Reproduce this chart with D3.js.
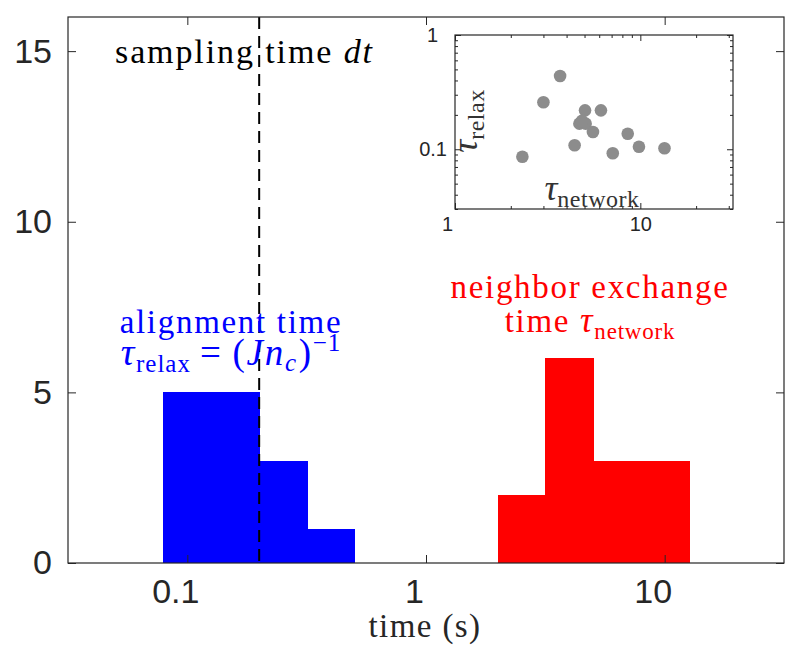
<!DOCTYPE html>
<html><head><meta charset="utf-8">
<script src="https://cdn.jsdelivr.net/npm/d3@7"></script>
<style>body{margin:0;background:#fff}</style>
</head><body><svg id="c" width="800" height="665"></svg>
<script>
// ---- data ----
const relaxEdges = [0.0794, 0.1259, 0.1995, 0.3162, 0.5012];
const relaxCounts = [5, 5, 3, 1];
const networkEdges = [1.995, 3.162, 5.012, 7.943, 12.59];
const networkCounts = [2, 6, 3, 3];
const samplingTime = 0.2;
const mainXTicks = [0.1, 1, 10];
const mainXTickLabels = ["0.1", "1", "10"];
const mainYTicks = [0, 5, 10, 15];
const mainYTickLabels = ["0", "5", "10", "15"];
const tauNetwork = [3.69, 3.00, 5.03, 6.13, 4.69, 5.07, 5.55, 8.55, 4.42, 9.83, 13.5, 2.31, 7.10, 4.84];
const tauRelax   = [0.438, 0.258, 0.219, 0.219, 0.1675, 0.1675, 0.1416, 0.1368, 0.1083, 0.1053, 0.1019, 0.0861, 0.0922, 0.177];
const insetXTicks = [1, 10];
const insetXTickLabels = ["1", "10"];
const insetYTicks = [0.1, 1];
const insetYTickLabels = ["0.1", "1"];

const svg = d3.select("#c");
const axisColor = "#262626";
const serif = "'Liberation Serif', 'Times New Roman', serif";
const sans = "'Liberation Sans', Arial, Helvetica, sans-serif";

// ---- main scales ----
const L = 68, R = 784, T = 17, B = 563;
const x = d3.scaleLog().domain([Math.pow(10, -1.5), Math.pow(10, 1.5)]).range([L, R]);
const y = d3.scaleLinear().domain([0, 16]).range([B, T]);

// histogram bars
function bars(edges, counts, color) {
  const d = counts.map((c, i) => ({x0: edges[i], x1: edges[i + 1], c}));
  svg.append("g").attr("shape-rendering", "crispEdges").selectAll("rect").data(d).join("rect")
    .attr("x", v => Math.round(x(v.x0))).attr("width", v => Math.round(x(v.x1)) - Math.round(x(v.x0)) + 1)
    .attr("y", v => Math.round(y(v.c))).attr("height", v => Math.round(y(0)) - Math.round(y(v.c)))
    .attr("fill", color);
}
bars(relaxEdges, relaxCounts, "#0000ff");
bars(networkEdges, networkCounts, "#ff0000");

// dashed sampling line
svg.append("line").attr("x1", x(samplingTime)).attr("x2", x(samplingTime))
  .attr("y1", T).attr("y2", B).attr("stroke", "#000").attr("stroke-width", 2)
  .attr("stroke-dasharray", "12,7");

// axes
function styleAxis(g) {
  g.select(".domain").remove();
  g.selectAll("line").attr("stroke", axisColor).attr("stroke-width", 1);
  g.selectAll("text").attr("fill", axisColor).attr("font-family", sans);
}
const gxB = svg.append("g").attr("transform", `translate(0,${B})`)
  .call(d3.axisBottom(x).tickValues(mainXTicks).tickFormat((d, i) => mainXTickLabels[i]).tickSizeInner(-8).tickSizeOuter(0).tickPadding(16));
styleAxis(gxB); gxB.selectAll("text").attr("font-size", 34).attr("dx", -12);
const gxT = svg.append("g").attr("transform", `translate(0,${T})`)
  .call(d3.axisTop(x).tickValues(mainXTicks).tickFormat("").tickSizeInner(-8).tickSizeOuter(0));
styleAxis(gxT);
const gyL = svg.append("g").attr("transform", `translate(${L},0)`)
  .call(d3.axisLeft(y).tickValues(mainYTicks).tickFormat((d, i) => mainYTickLabels[i]).tickSizeInner(-8).tickSizeOuter(0).tickPadding(16));
styleAxis(gyL); gyL.selectAll("text").attr("font-size", 34);
const gyR = svg.append("g").attr("transform", `translate(${R},0)`)
  .call(d3.axisRight(y).tickValues(mainYTicks).tickFormat("").tickSizeInner(-8).tickSizeOuter(0));
styleAxis(gyR);
svg.append("rect").attr("x", L).attr("y", T).attr("width", R - L).attr("height", B - T)
  .attr("fill", "none").attr("stroke", axisColor).attr("stroke-width", 1.2);

// x axis title
svg.append("text").attr("x", 425).attr("y", 637).attr("text-anchor", "middle")
  .attr("font-family", serif).attr("font-size", 33).attr("letter-spacing", 1.4).attr("fill", axisColor)
  .text("time (s)");

// annotation texts
const t1 = svg.append("text").attr("x", 115).attr("y", 63)
  .attr("font-family", serif).attr("font-size", 34).attr("letter-spacing", 1.9).attr("fill", "#000");
t1.append("tspan").text("sampling time ");
t1.append("tspan").attr("font-style", "italic").text("dt");

function blueRed(color, lines, cx) {
  lines.forEach(([yy, fs, parts]) => {
    const t = svg.append("text").attr("x", cx).attr("y", yy).attr("text-anchor", "middle")
      .attr("font-family", serif).attr("font-size", fs).attr("letter-spacing", 1.7).attr("fill", color);
    parts.forEach(p => {
      const s = t.append("tspan").text(p.t);
      if (p.i) s.attr("font-style", "italic");
      if (p.fs) s.attr("font-size", p.fs);
      if (p.dy) s.attr("dy", p.dy);
      if (p.dx) s.attr("dx", p.dx);
      if (p.ls !== undefined) s.attr("letter-spacing", p.ls);
    });
  });
}
blueRed("#0000ff", [
  [333, 33, [{t: "alignment time"}]],
  [365, 37, [{t: "τ", i: 1, fs: 38}, {t: "relax", fs: 25, dy: 7, ls: 1}, {t: "=", dy: -7, dx: 9}, {t: "(", dx: 10}, {t: "J", i: 1}, {t: "n", i: 1},
         {t: "c", i: 1, fs: 25, dy: 6}, {t: ")", dy: -6, dx: 1}, {t: "−1", fs: 25, dy: -14, ls: 1}]]
], 231);
blueRed("#ff0000", [
  [298, 33, [{t: "neighbor exchange"}]],
  [332, 33, [{t: "time "}, {t: "τ", i: 1, fs: 35}, {t: "network", fs: 23, dy: 7, ls: 0.8}]]
], 590);

// ---- inset ----
const iL = 455, iR = 733, iT = 35, iB = 209;
const ix = d3.scaleLog().domain([1, Math.pow(10, 1.5)]).range([iL, iR]);
const iy = d3.scaleLog().domain([0.03, 1]).range([iB, iT]);
svg.append("rect").attr("x", iL).attr("y", iT).attr("width", iR - iL).attr("height", iB - iT).attr("fill", "#fff");

const isMajor = v => Math.abs(Math.log10(v) - Math.round(Math.log10(v))) < 1e-6;
function insetAxis(axisFn, scale, pos, labels, ticks) {
  const all = scale.ticks();
  const horiz = axisFn === d3.axisBottom || axisFn === d3.axisTop;
  const g = svg.append("g").attr("transform", pos)
    .call(axisFn(scale).tickValues(all).tickSizeInner(-3).tickSizeOuter(0).tickPadding(8)
      .tickFormat(d => { const k = ticks.indexOf(d); return (labels && k >= 0) ? labels[k] : ""; }));
  styleAxis(g);
  const a = horiz ? "y2" : "x2";
  g.selectAll(".tick").filter(d => isMajor(d)).select("line")
    .attr(a, function () { return +d3.select(this).attr(a) * 2; });
  g.selectAll("text").attr("font-size", 20);
  return g;
}
const ixB = insetAxis(d3.axisBottom, ix, `translate(0,${iB})`, insetXTickLabels, insetXTicks);
ixB.selectAll(".tick").filter(d => d === 1).select("text").attr("dx", -8);
insetAxis(d3.axisTop, ix, `translate(0,${iT})`, null, insetXTicks);
const iyL = insetAxis(d3.axisLeft, iy, `translate(${iL},0)`, insetYTickLabels, insetYTicks);
iyL.selectAll(".tick").filter(d => d === 1).select("text").attr("dx", -9);
insetAxis(d3.axisRight, iy, `translate(${iR},0)`, null, insetYTicks);

svg.append("g").selectAll("circle").data(tauNetwork).join("circle")
  .attr("cx", d => ix(d)).attr("cy", (d, i) => iy(tauRelax[i])).attr("r", 6.3)
  .attr("fill", "#8c8c8c");

svg.append("rect").attr("x", iL).attr("y", iT).attr("width", iR - iL).attr("height", iB - iT)
  .attr("fill", "none").attr("stroke", axisColor).attr("stroke-width", 1.2);

// inset axis labels
const xl = svg.append("text").attr("x", 592).attr("y", 200).attr("text-anchor", "middle")
  .attr("font-family", serif).attr("font-size", 33).attr("fill", "#333");
xl.append("tspan").attr("font-style", "italic").attr("font-size", 36).text("τ");
xl.append("tspan").attr("font-size", 24).attr("dy", 7).attr("letter-spacing", 0.5).text("network");
const yl = svg.append("text").attr("transform", "translate(477,121) rotate(-90)").attr("text-anchor", "middle")
  .attr("font-family", serif).attr("font-size", 33).attr("fill", "#333");
yl.append("tspan").attr("font-style", "italic").attr("font-size", 36).text("τ");
yl.append("tspan").attr("font-size", 24).attr("dy", 7).attr("letter-spacing", 0.5).text("relax");
</script></body></html>
